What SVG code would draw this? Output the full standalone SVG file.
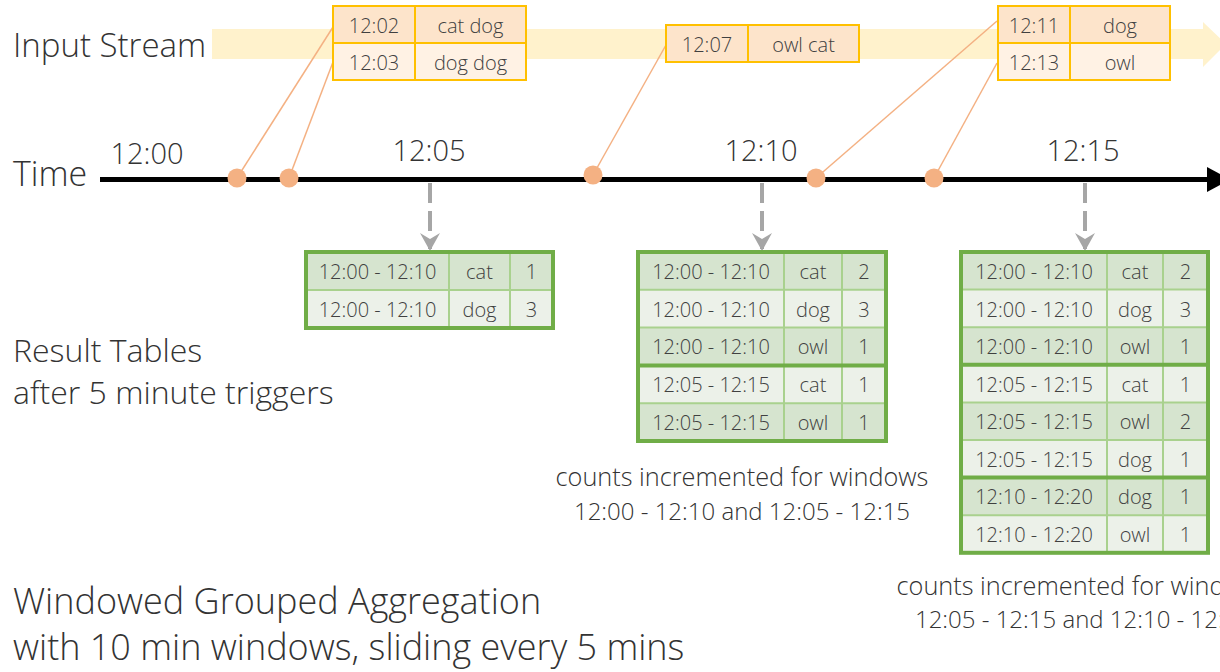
<svg xmlns="http://www.w3.org/2000/svg" width="1220" height="672" viewBox="0 0 1220 672">
<style>
text{font-family:"Open Sans","Noto Sans","Liberation Sans",sans-serif;font-weight:300;fill:#333}
.lbl{font-size:32px}
.tick{font-size:29px;text-anchor:middle}
.cell{font-size:20px;text-anchor:middle;fill:#404040}
.note{font-size:25.3px;text-anchor:middle}
.note2{font-size:24px;text-anchor:middle}
.big{font-size:36px}
.ev1{fill:#fde4cb;stroke:#ffc000;stroke-width:2}
.ev2{fill:#fff2e4;stroke:#ffc000;stroke-width:2}
.rd{fill:#d6e4cf}
.rl{fill:#ecf1e9}
.in{stroke:#a9d18e;stroke-width:2;fill:none}
.grp{stroke:#70ad47;stroke-width:4;fill:none}
.out{stroke:#70ad47;stroke-width:4;fill:none}
.feed{stroke:#f4b183;stroke-width:1.5;fill:none}
.dot{fill:#f4b183}
.trig{stroke:#a6a6a6;stroke-width:4;stroke-dasharray:20 8;fill:none}
</style>
<defs>
<marker id="ah" markerUnits="userSpaceOnUse" markerWidth="18" markerHeight="20" refX="16" refY="10" orient="auto" viewBox="0 0 18 20">
<path d="M0,0 L6,10 L0,20 L18,10 Z" fill="#a6a6a6"/>
</marker>
</defs>

<g id="stream">
<rect x="212" y="29" width="992" height="30" fill="#fff2cc"/>
<polygon points="1203,22 1226,44 1203,67" fill="#fff2cc"/>
<text class="lbl" x="13" y="57" style="font-size:33px">Input Stream</text>
</g>

<g id="timeline">
<line x1="100" y1="179.5" x2="1210" y2="179.5" stroke="#000" stroke-width="5"/>
<polygon points="1207,167 1230,179.5 1207,192" fill="#000"/>
<text class="lbl" x="13" y="186" style="font-size:34px">Time</text>
<text class="tick" x="147" y="164">12:00</text>
<text class="tick" x="429" y="161">12:05</text>
<text class="tick" x="761" y="161">12:10</text>
<text class="tick" x="1083" y="161">12:15</text>
</g>

<g id="connectors">
<line class="feed" x1="237" y1="178" x2="333" y2="27"/>
<line class="feed" x1="289" y1="178" x2="333" y2="62"/>
<line class="feed" x1="593" y1="175" x2="666" y2="45"/>
<line class="feed" x1="816" y1="178" x2="997" y2="21"/>
<line class="feed" x1="934" y1="178" x2="997" y2="63"/>
<line class="trig" x1="430" y1="183" x2="430" y2="249" marker-end="url(#ah)"/>
<line class="trig" x1="762" y1="183" x2="762" y2="249" marker-end="url(#ah)"/>
<line class="trig" x1="1085" y1="183" x2="1085" y2="249" marker-end="url(#ah)"/>
</g>

<g id="dots">
<circle class="dot" cx="237" cy="178" r="9.5"/>
<circle class="dot" cx="289" cy="178" r="9.5"/>
<circle class="dot" cx="593" cy="175" r="9.5"/>
<circle class="dot" cx="816" cy="178" r="9.5"/>
<circle class="dot" cx="934" cy="178" r="9.5"/>
</g>

<g id="event-1">
<rect class="ev1" x="333" y="6" width="82" height="37"/>
<rect class="ev1" x="415" y="6" width="111" height="37"/>
<rect class="ev2" x="333" y="43" width="82" height="37"/>
<rect class="ev2" x="415" y="43" width="111" height="37"/>
<text class="cell" x="374" y="33">12:02</text>
<text class="cell" x="470.5" y="33">cat dog</text>
<text class="cell" x="374" y="70">12:03</text>
<text class="cell" x="470.5" y="70">dog dog</text>
</g>

<g id="event-2">
<rect class="ev1" x="666" y="25" width="82" height="37"/>
<rect class="ev1" x="748" y="25" width="111" height="37"/>
<text class="cell" x="707" y="52">12:07</text>
<text class="cell" x="803.5" y="52">owl cat</text>
</g>

<g id="event-3">
<rect class="ev1" x="998" y="6" width="72" height="37"/>
<rect class="ev1" x="1070" y="6" width="100" height="37"/>
<rect class="ev2" x="998" y="43" width="72" height="37"/>
<rect class="ev2" x="1070" y="43" width="100" height="37"/>
<text class="cell" x="1034" y="33">12:11</text>
<text class="cell" x="1120" y="33">dog</text>
<text class="cell" x="1034" y="70">12:13</text>
<text class="cell" x="1120" y="70">owl</text>
</g>

<g id="result-1205">
<rect class="rd" x="306" y="252" width="247" height="38"/>
<rect class="rl" x="306" y="290" width="247" height="38"/>
<line class="in" x1="306" y1="290" x2="553" y2="290"/>
<line class="in" x1="449" y1="252" x2="449" y2="328"/>
<line class="in" x1="510" y1="252" x2="510" y2="328"/>
<rect class="out" x="306" y="252" width="247" height="76"/>
<text class="cell" x="377.5" y="279">12:00 - 12:10</text>
<text class="cell" x="479.5" y="279">cat</text>
<text class="cell" x="531.5" y="279">1</text>
<text class="cell" x="377.5" y="317">12:00 - 12:10</text>
<text class="cell" x="479.5" y="317">dog</text>
<text class="cell" x="531.5" y="317">3</text>
</g>

<g id="result-1210">
<rect class="rd" x="638" y="252" width="248" height="37.8"/>
<rect class="rl" x="638" y="289.8" width="248" height="37.8"/>
<rect class="rd" x="638" y="327.6" width="248" height="37.8"/>
<rect class="rl" x="638" y="365.4" width="248" height="37.8"/>
<rect class="rd" x="638" y="403.2" width="248" height="37.8"/>
<line class="in" x1="638" y1="289.8" x2="886" y2="289.8"/>
<line class="in" x1="638" y1="327.6" x2="886" y2="327.6"/>
<line class="in" x1="638" y1="403.2" x2="886" y2="403.2"/>
<line class="in" x1="784" y1="252" x2="784" y2="441"/>
<line class="in" x1="842" y1="252" x2="842" y2="441"/>
<line class="grp" x1="638" y1="365.4" x2="886" y2="365.4"/>
<rect class="out" x="638" y="252" width="248" height="189"/>
<text class="cell" x="711" y="279">12:00 - 12:10</text>
<text class="cell" x="813" y="279">cat</text>
<text class="cell" x="864" y="279">2</text>
<text class="cell" x="711" y="317">12:00 - 12:10</text>
<text class="cell" x="813" y="317">dog</text>
<text class="cell" x="864" y="317">3</text>
<text class="cell" x="711" y="354">12:00 - 12:10</text>
<text class="cell" x="813" y="354">owl</text>
<text class="cell" x="864" y="354">1</text>
<text class="cell" x="711" y="392">12:05 - 12:15</text>
<text class="cell" x="813" y="392">cat</text>
<text class="cell" x="864" y="392">1</text>
<text class="cell" x="711" y="430">12:05 - 12:15</text>
<text class="cell" x="813" y="430">owl</text>
<text class="cell" x="864" y="430">1</text>
</g>

<g id="result-1215">
<rect class="rd" x="961" y="252" width="247" height="37.6"/>
<rect class="rl" x="961" y="289.6" width="247" height="37.6"/>
<rect class="rd" x="961" y="327.2" width="247" height="37.6"/>
<rect class="rl" x="961" y="364.8" width="247" height="37.6"/>
<rect class="rd" x="961" y="402.4" width="247" height="37.6"/>
<rect class="rl" x="961" y="440" width="247" height="37.6"/>
<rect class="rd" x="961" y="477.6" width="247" height="37.6"/>
<rect class="rl" x="961" y="515.2" width="247" height="37.6"/>
<line class="in" x1="961" y1="289.6" x2="1208" y2="289.6"/>
<line class="in" x1="961" y1="327.2" x2="1208" y2="327.2"/>
<line class="in" x1="961" y1="402.4" x2="1208" y2="402.4"/>
<line class="in" x1="961" y1="440" x2="1208" y2="440"/>
<line class="in" x1="961" y1="515.2" x2="1208" y2="515.2"/>
<line class="in" x1="1107" y1="252" x2="1107" y2="552.8"/>
<line class="in" x1="1163" y1="252" x2="1163" y2="552.8"/>
<line class="grp" x1="961" y1="364.8" x2="1208" y2="364.8"/>
<line class="grp" x1="961" y1="477.6" x2="1208" y2="477.6"/>
<rect class="out" x="961" y="252" width="247" height="300.8"/>
<text class="cell" x="1034" y="279">12:00 - 12:10</text>
<text class="cell" x="1135" y="279">cat</text>
<text class="cell" x="1185.5" y="279">2</text>
<text class="cell" x="1034" y="317">12:00 - 12:10</text>
<text class="cell" x="1135" y="317">dog</text>
<text class="cell" x="1185.5" y="317">3</text>
<text class="cell" x="1034" y="354">12:00 - 12:10</text>
<text class="cell" x="1135" y="354">owl</text>
<text class="cell" x="1185.5" y="354">1</text>
<text class="cell" x="1034" y="392">12:05 - 12:15</text>
<text class="cell" x="1135" y="392">cat</text>
<text class="cell" x="1185.5" y="392">1</text>
<text class="cell" x="1034" y="429">12:05 - 12:15</text>
<text class="cell" x="1135" y="429">owl</text>
<text class="cell" x="1185.5" y="429">2</text>
<text class="cell" x="1034" y="467">12:05 - 12:15</text>
<text class="cell" x="1135" y="467">dog</text>
<text class="cell" x="1185.5" y="467">1</text>
<text class="cell" x="1034" y="504">12:10 - 12:20</text>
<text class="cell" x="1135" y="504">dog</text>
<text class="cell" x="1185.5" y="504">1</text>
<text class="cell" x="1034" y="542">12:10 - 12:20</text>
<text class="cell" x="1135" y="542">owl</text>
<text class="cell" x="1185.5" y="542">1</text>
</g>

<g id="labels">
<text class="lbl" x="13" y="362">Result Tables</text>
<text class="lbl" x="13" y="404">after 5 minute triggers</text>
<text class="note" x="742" y="486">counts incremented for windows</text>
<text class="note2" x="742" y="520">12:00 - 12:10 and 12:05 - 12:15</text>
<text class="note" x="1083" y="595">counts incremented for windows</text>
<text class="note2" x="1083" y="628">12:05 - 12:15 and 12:10 - 12:20</text>
<text class="big" x="13" y="614">Windowed Grouped Aggregation</text>
<text class="big" x="13" y="660">with 10 min windows, sliding every 5 mins</text>
</g>
</svg>
